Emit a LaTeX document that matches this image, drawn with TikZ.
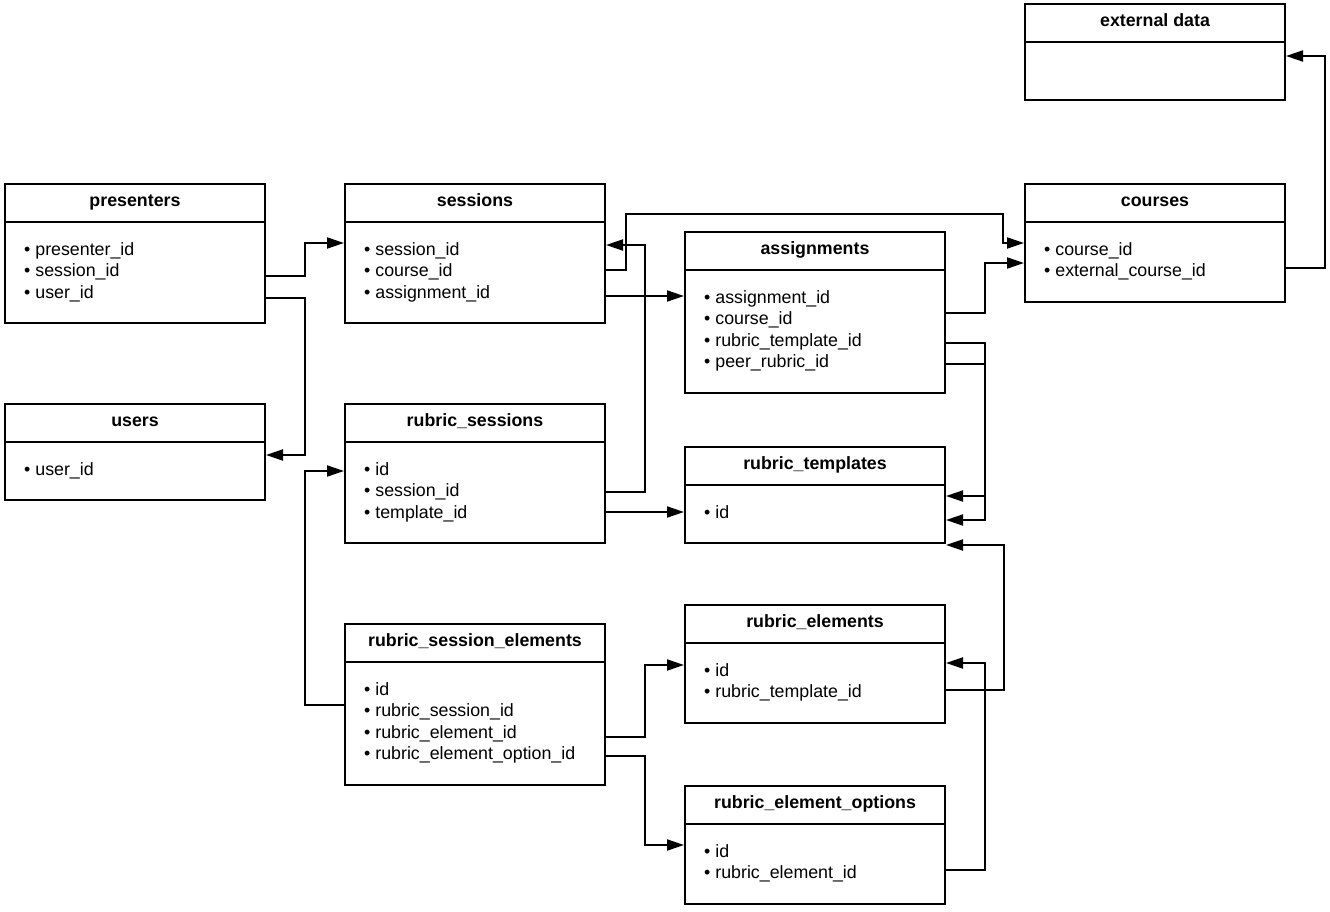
\documentclass[tikz,border=0pt]{standalone}
\usepackage{fontspec}
\setmainfont{Liberation Sans}
\usetikzlibrary{arrows.meta}

\begin{document}
\begin{tikzpicture}[x=1pt,y=-1pt,
    tbl/.style={draw, line width=2pt, minimum width=260pt, inner sep=0pt},
    hdr/.style={line width=2pt},
    ttl/.style={anchor=base, inner sep=0pt, font=\fontsize{17.8}{21.5}\selectfont\bfseries},
    fld/.style={anchor=base west, inner sep=0pt, font=\fontsize{17.8}{21.5}\selectfont},
    link/.style={line width=2pt, -{Triangle[length=17pt,width=11pt]}}
]
\useasboundingbox (0,0) rectangle (1330,912);

% tables
\node[tbl, minimum height=139pt] (presenters) at (135,253.5) {};
\draw[hdr] (presenters.west |- 0,222) -- (presenters.east |- 0,222);
\node[ttl] (presenters-t) at (135,206.5) {presenters};
\foreach \f [count=\i from 0] in {presenter\_id, session\_id, user\_id}
    \node[fld] (presenters-\i) at (24,255+21.5*\i) {\textbullet\ \f};

\node[tbl, minimum height=139pt] (sessions) at (475,253.5) {};
\draw[hdr] (sessions.west |- 0,222) -- (sessions.east |- 0,222);
\node[ttl] (sessions-t) at (475,206.5) {sessions};
\foreach \f [count=\i from 0] in {session\_id, course\_id, assignment\_id}
    \node[fld] (sessions-\i) at (364,255+21.5*\i) {\textbullet\ \f};

\node[tbl, minimum height=96pt] (external) at (1155,52) {};
\draw[hdr] (external.west |- 0,42) -- (external.east |- 0,42);
\node[ttl] (external-t) at (1155,26.5) {external data};

\node[tbl, minimum height=118pt] (courses) at (1155,243) {};
\draw[hdr] (courses.west |- 0,222) -- (courses.east |- 0,222);
\node[ttl] (courses-t) at (1155,206.5) {courses};
\foreach \f [count=\i from 0] in {course\_id, external\_course\_id}
    \node[fld] (courses-\i) at (1044,255+21.5*\i) {\textbullet\ \f};

\node[tbl, minimum height=161pt] (assignments) at (815,312.5) {};
\draw[hdr] (assignments.west |- 0,270) -- (assignments.east |- 0,270);
\node[ttl] (assignments-t) at (815,254.5) {assignments};
\foreach \f [count=\i from 0] in {assignment\_id, course\_id, rubric\_template\_id, peer\_rubric\_id}
    \node[fld] (assignments-\i) at (704,303+21.5*\i) {\textbullet\ \f};

\node[tbl, minimum height=96pt] (users) at (135,452) {};
\draw[hdr] (users.west |- 0,442) -- (users.east |- 0,442);
\node[ttl] (users-t) at (135,426.5) {users};
\node[fld] (users-0) at (24,475) {\textbullet\ user\_id};

\node[tbl, minimum height=139pt] (rsessions) at (475,473.5) {};
\draw[hdr] (rsessions.west |- 0,442) -- (rsessions.east |- 0,442);
\node[ttl] (rsessions-t) at (475,426.5) {rubric\_sessions};
\foreach \f [count=\i from 0] in {id, session\_id, template\_id}
    \node[fld] (rsessions-\i) at (364,475+21.5*\i) {\textbullet\ \f};

\node[tbl, minimum height=96pt] (rtemplates) at (815,495) {};
\draw[hdr] (rtemplates.west |- 0,485) -- (rtemplates.east |- 0,485);
\node[ttl] (rtemplates-t) at (815,469.5) {rubric\_templates};
\node[fld] (rtemplates-0) at (704,518) {\textbullet\ id};

\node[tbl, minimum height=161pt] (rselements) at (475,704.5) {};
\draw[hdr] (rselements.west |- 0,662) -- (rselements.east |- 0,662);
\node[ttl] (rselements-t) at (475,646.5) {rubric\_session\_elements};
\foreach \f [count=\i from 0] in {id, rubric\_session\_id, rubric\_element\_id, rubric\_element\_option\_id}
    \node[fld] (rselements-\i) at (364,695+21.5*\i) {\textbullet\ \f};

\node[tbl, minimum height=118pt] (relements) at (815,664) {};
\draw[hdr] (relements.west |- 0,643) -- (relements.east |- 0,643);
\node[ttl] (relements-t) at (815,627.5) {rubric\_elements};
\foreach \f [count=\i from 0] in {id, rubric\_template\_id}
    \node[fld] (relements-\i) at (704,676+21.5*\i) {\textbullet\ \f};

\node[tbl, minimum height=118pt] (reoptions) at (815,845) {};
\draw[hdr] (reoptions.west |- 0,824) -- (reoptions.east |- 0,824);
\node[ttl] (reoptions-t) at (815,808.5) {rubric\_element\_options};
\foreach \f [count=\i from 0] in {id, rubric\_element\_id}
    \node[fld] (reoptions-\i) at (704,857+21.5*\i) {\textbullet\ \f};

% links
\draw[link] (presenters.east |- 0,276) -- ++(39,0) |- (sessions.west |- 0,243);
\draw[link] (presenters.east |- 0,298) -- ++(39,0) |- (users.east |- 0,455);
\draw[link] (sessions.east |- 0,270) -- ++(20,0) |- (1003,214) |- (courses.west |- 0,243);
\draw[link] (sessions.east |- 0,296) -- (assignments.west |- 0,296);
\draw[link] (rsessions.east |- 0,492) -- ++(39,0) |- (sessions.east |- 0,245);
\draw[link] (rsessions.east |- 0,512) -- (rtemplates.west |- 0,512);
\draw[link] (assignments.east |- 0,313) -- ++(39,0) |- (courses.west |- 0,263);
\draw[link] (courses.east |- 0,268) -- ++(39,0) |- (external.east |- 0,56);
\draw[link] (assignments.east |- 0,343) -- ++(39,0) |- (rtemplates.east |- 0,496);
\draw[link] (assignments.east |- 0,364) -- ++(39,0) |- (rtemplates.east |- 0,520);
\draw[link] (rselements.west |- 0,705) -- ++(-39,0) |- (rsessions.west |- 0,471);
\draw[link] (rselements.east |- 0,737) -- ++(39,0) |- (relements.west |- 0,665);
\draw[link] (rselements.east |- 0,756) -- ++(39,0) |- (reoptions.west |- 0,845);
\draw[link] (relements.east |- 0,690) -- ++(58,0) |- (rtemplates.east |- 0,545);
\draw[link] (reoptions.east |- 0,870) -- ++(39,0) |- (relements.east |- 0,663);
\end{tikzpicture}
\end{document}
